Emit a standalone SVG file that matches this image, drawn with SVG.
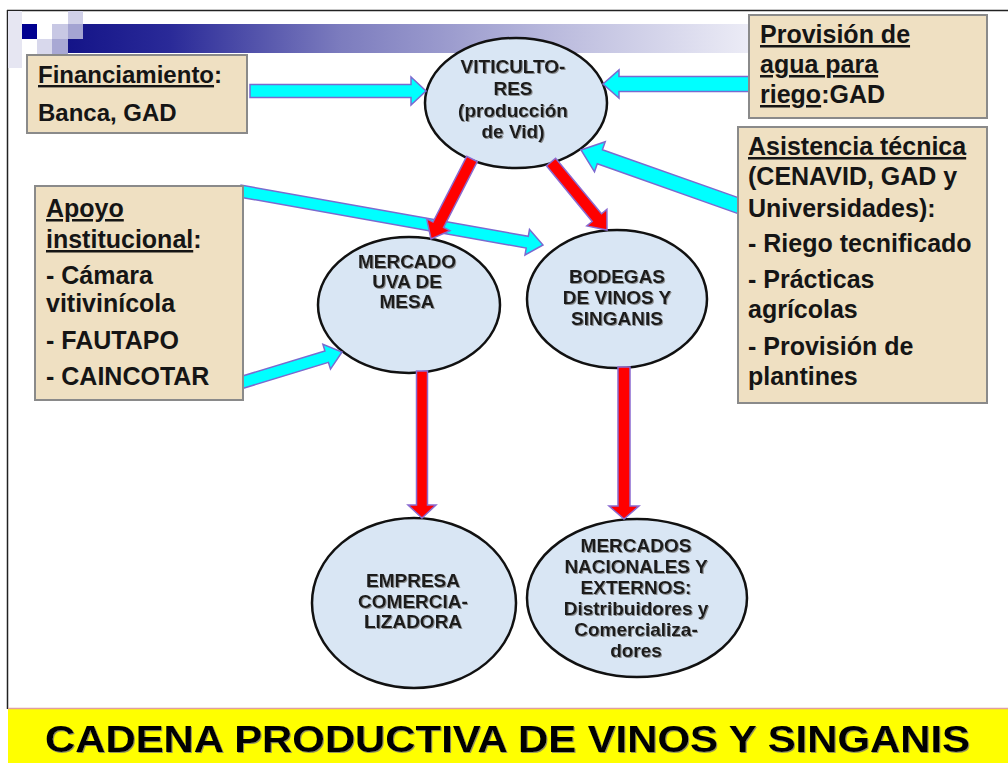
<svg xmlns="http://www.w3.org/2000/svg" width="1008" height="763" viewBox="0 0 1008 763">
<style>
.box{fill:#efe0c2;stroke:#8a8a8a;stroke-width:2}
.ell{fill:#d9e6f4;stroke:#111;stroke-width:2.5}
.bt{font-family:"Liberation Sans",Arial,sans-serif;font-weight:bold;font-size:25px;fill:#151515}
.et{font-family:"Liberation Sans",Arial,sans-serif;font-weight:bold;font-size:19px;fill:#1a1a1a;text-anchor:middle}
.cy{fill:#00ffff;stroke:#7a6ad0;stroke-width:1.5;stroke-linejoin:miter}
.rd{fill:#ff0000;stroke:#8a6ad0;stroke-width:1.5;stroke-linejoin:miter}
.u{text-decoration:underline}
</style>
<defs>
<linearGradient id="bar" gradientUnits="userSpaceOnUse" x1="68" y1="0" x2="750" y2="0">
<stop offset="0" stop-color="#141488"/>
<stop offset="0.15" stop-color="#2a2a98"/>
<stop offset="0.4" stop-color="#7c7cbe"/>
<stop offset="0.7" stop-color="#b8b8dc"/>
<stop offset="1" stop-color="#ececf6"/>
</linearGradient>
<filter id="sh" x="-5%" y="-5%" width="110%" height="120%">
<feDropShadow dx="1" dy="1" stdDeviation="0.6" flood-color="#777" flood-opacity="0.8"/>
</filter>
</defs>
<rect x="0" y="0" width="1008" height="763" fill="#ffffff"/>
<!-- frame -->
<g id="frame">
<line x1="7" y1="10.5" x2="1008" y2="10.5" stroke="#222" stroke-width="1.5"/>
<line x1="7.5" y1="10" x2="7.5" y2="709" stroke="#222" stroke-width="1.5"/>
</g>
<!-- decoration -->
<g id="decor">
<rect x="8" y="11" width="14" height="57" fill="#e6e6f2"/>
<rect x="68" y="24" width="682" height="29" fill="url(#bar)"/>
<rect x="22" y="24" width="15" height="15" fill="#000090"/>
<rect x="52" y="24" width="16" height="15" fill="#c8c8e4"/>
<rect x="68" y="11" width="15" height="13" fill="#d0d0e8"/>
<rect x="68" y="24" width="15" height="15" fill="#a4a4d2"/>
<rect x="37" y="39" width="15" height="15" fill="#d8d8ec"/>
<rect x="52" y="39" width="16" height="15" fill="#a8a8d4"/>
</g>
<!-- ellipse nodes -->
<g id="viticultores">
<ellipse class="ell" cx="516" cy="103" rx="91" ry="65"/>
<text class="et" filter="url(#sh)"><tspan x="513" y="73">VITICULTO-</tspan><tspan x="513" y="95">RES</tspan><tspan x="513" y="117">(producción</tspan><tspan x="513" y="138">de Vid)</tspan></text>
</g>
<g id="mercado-uva">
<ellipse class="ell" cx="409" cy="305" rx="91" ry="68"/>
<text class="et" filter="url(#sh)"><tspan x="407" y="268">MERCADO</tspan><tspan x="407" y="288">UVA DE</tspan><tspan x="407" y="308">MESA</tspan></text>
</g>
<g id="bodegas">
<ellipse class="ell" cx="617" cy="299" rx="90" ry="69"/>
<text class="et" filter="url(#sh)"><tspan x="617" y="283">BODEGAS</tspan><tspan x="617" y="304">DE VINOS Y</tspan><tspan x="617" y="325">SINGANIS</tspan></text>
</g>
<g id="empresa">
<ellipse class="ell" cx="414" cy="603" rx="102" ry="85"/>
<text class="et" filter="url(#sh)"><tspan x="413" y="587">EMPRESA</tspan><tspan x="413" y="608">COMERCIA-</tspan><tspan x="413" y="628">LIZADORA</tspan></text>
</g>
<g id="mercados">
<ellipse class="ell" cx="637" cy="598" rx="110" ry="79"/>
<text class="et" filter="url(#sh)"><tspan x="636" y="552">MERCADOS</tspan><tspan x="636" y="573">NACIONALES Y</tspan><tspan x="636" y="594">EXTERNOS:</tspan><tspan x="636" y="615">Distribuidores y</tspan><tspan x="636" y="636">Comercializa-</tspan><tspan x="636" y="657">dores</tspan></text>
</g>
<!-- connectors -->
<g id="connectors">
<polygon class="cy" points="250,84.5 411,84.5 411,77 426,91 411,105 411,97.5 250,97.5"/>
<polygon class="cy" points="752,76.5 619,76.5 619,70 603,84 619,98 619,91.5 752,91.5"/>
<polygon class="cy" points="744.5,199.9 602.4,149.7 605.2,141.7 581,150 594.5,171.8 597.3,163.8 739.5,214.1"/>
<polygon class="cy" points="238.9,196.9 526.2,248.1 525,255 543,245 529.5,229.4 528.3,236.3 241.1,185.1"/>
<polygon class="cy" points="241.8,388.7 328.4,362.4 330.5,369.1 342,352 322.9,344.2 324.9,350.9 238.3,377.3"/>
<polygon class="rd" points="466.7,156.3 433,222 426.7,218.8 431,239 449.9,230.7 443.6,227.5 477.3,161.7"/>
<polygon class="rd" points="546.4,165.8 592.2,221.5 586.8,225.9 607,230 606.9,209.4 601.5,213.8 555.6,158.2"/>
<polygon class="rd" points="416.5,371 416.5,505 408,505 422,518 436,505 427.5,505 427.5,371"/>
<polygon class="rd" points="618,367 618,506 609,506 624,519 639,506 630,506 630,367"/>
</g>
<!-- box nodes -->
<g id="financiamiento">
<rect class="box" x="27" y="55" width="220" height="78"/>
<text class="bt" style="font-size:24px" x="38" y="83"><tspan class="u">Financiamiento</tspan>:</text>
<text class="bt" style="font-size:24px" x="38" y="121">Banca, GAD</text>
</g>
<g id="provision">
<rect class="box" x="749" y="15" width="238" height="103"/>
<text class="bt" x="760" y="43"><tspan class="u">Provisión de</tspan></text>
<text class="bt" x="760" y="73"><tspan class="u">agua para</tspan></text>
<text class="bt" x="760" y="103"><tspan class="u">riego</tspan>:GAD</text>
</g>
<g id="asistencia">
<rect class="box" x="738" y="127" width="249" height="276"/>
<text class="bt" x="748" y="155"><tspan class="u">Asistencia técnica</tspan></text>
<text class="bt" x="748" y="185">(CENAVID, GAD y</text>
<text class="bt" x="748" y="217">Universidades):</text>
<text class="bt" x="748" y="252">- Riego tecnificado</text>
<text class="bt" x="748" y="288">- Prácticas</text>
<text class="bt" x="748" y="318">agrícolas</text>
<text class="bt" x="748" y="355">- Provisión de</text>
<text class="bt" x="748" y="385">plantines</text>
</g>
<g id="apoyo">
<rect class="box" x="35" y="186" width="208" height="214"/>
<text class="bt" x="46" y="217"><tspan class="u">Apoyo</tspan></text>
<text class="bt" x="46" y="248"><tspan class="u">institucional</tspan>:</text>
<text class="bt" x="46" y="284">- Cámara</text>
<text class="bt" x="46" y="312">vitivinícola</text>
<text class="bt" x="46" y="349">- FAUTAPO</text>
<text class="bt" x="46" y="385">- CAINCOTAR</text>
</g>
<!-- title band -->
<g id="title">
<rect x="8" y="708" width="1000" height="55" fill="#ffff00"/>
<line x1="8" y1="708.5" x2="1008" y2="708.5" stroke="#e0a0a0" stroke-width="1.5"/>
<text x="45" y="752" textLength="925" lengthAdjust="spacingAndGlyphs" filter="url(#sh)" style="font-family:'Liberation Sans',Arial,sans-serif;font-weight:bold;font-size:37px;fill:#000">CADENA PRODUCTIVA DE VINOS Y SINGANIS</text>
</g>
</svg>
